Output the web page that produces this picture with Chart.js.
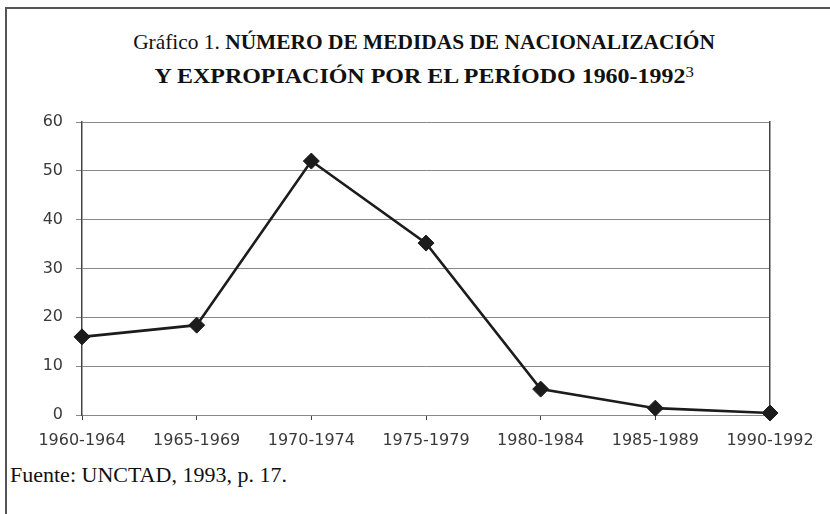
<!DOCTYPE html>
<html>
<head>
<meta charset="utf-8">
<script src="https://cdn.jsdelivr.net/npm/chart.js@4/dist/chart.umd.min.js"></script>
<style>
  body { margin: 0; background: #fff; }
  #wrap { position: relative; width: 830px; height: 514px; overflow: hidden; }
  #frame {
    position: absolute; left: 5px; top: 7px; width: 900px; height: 600px;
    border-left: 2px solid #555; border-top: 2px solid #555;
  }
  .title {
    position: absolute; left: 0; width: 848px; text-align: center;
    font-family: "Liberation Serif", "Times New Roman", serif;
    font-size: 21.4px; line-height: 34px; color: #111; white-space: nowrap;
  }
  .title b { font-weight: bold; }
  .title sup { font-size: 15px; vertical-align: 6px; line-height: 0; }
  #note {
    position: absolute; left: 10px; top: 462px;
    font-family: "Liberation Serif", "Times New Roman", serif;
    font-size: 22px; color: #111;
  }
  canvas { position: absolute; left: 0; top: 0; }
</style>
</head>
<body>
<div id="wrap">
  <div id="frame"></div>
  <div class="title" style="top:25px">Gráfico 1. <b>NÚMERO DE MEDIDAS DE NACIONALIZACIÓN</b></div>
  <div class="title" style="top:59px; transform:scaleX(1.12); transform-origin:422px 50%"><b>Y EXPROPIACIÓN POR EL PERÍODO 1960-1992</b><sup>3</sup></div>
  <div id="note">Fuente: UNCTAD, 1993, p. 17.</div>
  <canvas id="chart" width="830" height="514"></canvas>
</div>
<script>
const periods = ["1960-1964", "1965-1969", "1970-1974", "1975-1979", "1980-1984", "1985-1989", "1990-1992"]
const medidas = [16, 18.4, 52, 35.2, 5.3, 1.4, 0.4]
const yTicks = [0, 10, 20, 30, 40, 50, 60]

const tickFont = { family: "DejaVu Sans", size: 16 }

new Chart(document.getElementById("chart"), {
  type: "line",
  data: {
    labels: periods,
    datasets: [
      {
        data: medidas,
        borderColor: "#1c1c1c",
        backgroundColor: "#1c1c1c",
        borderWidth: 2.6,
        pointStyle: "rectRot",
        pointRadius: 8,
        pointBorderWidth: 1,
        tension: 0,
        clip: false
      }
    ]
  },
  options: {
    responsive: false,
    animation: false,
    layout: { padding: { left: 22, right: 60, top: 122, bottom: 59 } },
    scales: {
      x: {
        offset: false,
        afterFit: (scale) => { scale.height = 40 },
        grid: { drawOnChartArea: false, tickLength: 5, tickColor: "#444" },
        border: { color: "#888", width: 1 },
        ticks: { font: tickFont, color: "#3a3a3a", padding: 11, maxRotation: 0, autoSkip: false }
      },
      y: {
        min: 0,
        max: 60,
        afterFit: (scale) => { scale.width = 60 },
        afterBuildTicks: (scale) => { scale.ticks = yTicks.map((v) => ({ value: v })) },
        grid: { color: "#888", tickLength: 6, tickColor: "#888" },
        border: { color: "#444", width: 1.5 },
        ticks: { font: tickFont, color: "#3a3a3a", padding: 13 }
      },
      y2: {
        position: "right",
        min: 0,
        max: 60,
        afterFit: (scale) => { scale.width = 0 },
        grid: { display: false },
        border: { color: "#444", width: 1.5 },
        ticks: { display: false }
      }
    },
    plugins: {
      legend: { display: false },
      tooltip: { enabled: false }
    }
  }
})
</script>
</body>
</html>
